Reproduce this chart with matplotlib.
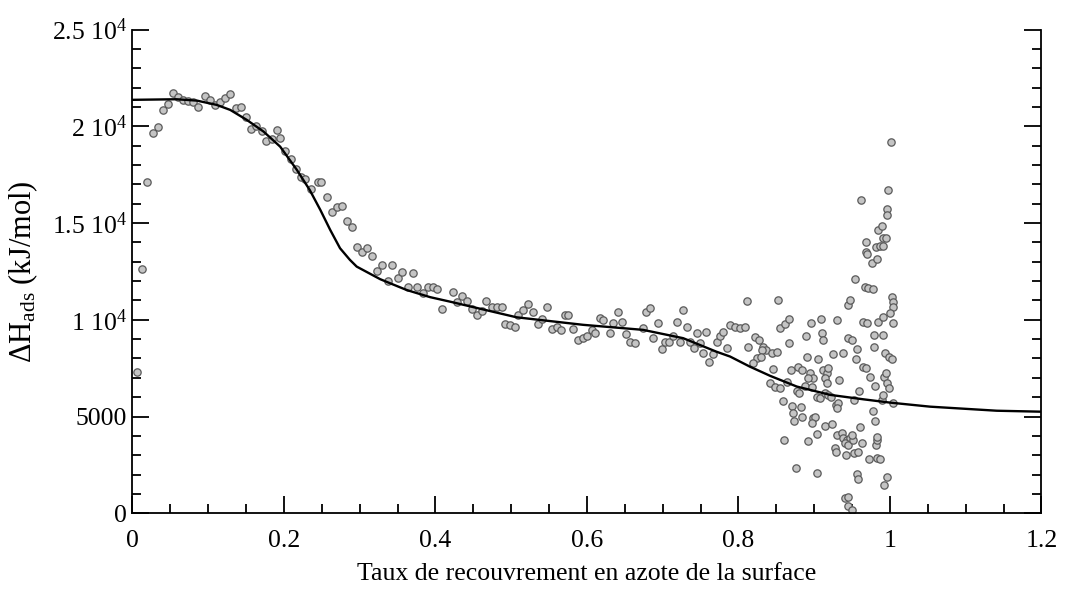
import matplotlib
matplotlib.use('Agg')
from matplotlib import pyplot as plt
from matplotlib.ticker import MultipleLocator

plt.rcParams['font.family'] = ['Liberation Serif', 'DejaVu Serif']
plt.rcParams['mathtext.fontset'] = 'custom'
plt.rcParams['mathtext.rm'] = 'Liberation Serif'
plt.rcParams['mathtext.it'] = 'Liberation Serif:italic'

# measured points, low coverage (theta < 0.4)
theta_low = [0.0055, 0.0121, 0.0195, 0.0267, 0.0341, 0.0399, 0.0473, 0.0531, 0.0605, 0.0671,
             0.0737, 0.0803, 0.0869, 0.0957, 0.1023, 0.1089, 0.1155, 0.1221, 0.1287, 0.1366,
             0.1432, 0.1494, 0.1560, 0.1630, 0.1706, 0.1762, 0.1838, 0.1904, 0.1947, 0.2013,
             0.2092, 0.2154, 0.2220, 0.2277, 0.2356, 0.2453, 0.2484, 0.2564, 0.2630, 0.2696,
             0.2762, 0.2836, 0.2894, 0.2960, 0.3026, 0.3092, 0.3166, 0.3224, 0.3298, 0.3369,
             0.3430, 0.3501, 0.3562, 0.3641, 0.3699, 0.3760, 0.3839, 0.3897, 0.3970]
dh_low = [7320, 12630, 17110, 19650, 19990, 20850, 21150, 21710, 21510, 21370,
          21330, 21280, 21020, 21590, 21370, 21110, 21280, 21460, 21660, 20970,
          21020, 20500, 19870, 20020, 19780, 19260, 19340, 19820, 19390, 18750,
          18300, 17780, 17400, 17270, 16770, 17140, 17140, 16370, 15590, 15850,
          15890, 15130, 14790, 13780, 13520, 13700, 13300, 12540, 12840, 12030,
          12850, 12150, 12480, 11720, 12440, 11720, 11370, 11720, 11720]

# measured points, middle coverage
theta_mid = [0.4024, 0.4082, 0.4227, 0.4280, 0.4354, 0.4412, 0.4478, 0.4544, 0.4610, 0.4667,
             0.4742, 0.4808, 0.4874, 0.4917, 0.4983, 0.5050, 0.5093, 0.5159, 0.5225, 0.5291,
             0.5357, 0.5402, 0.5468, 0.5534, 0.5600, 0.5653, 0.5710, 0.5753, 0.5819, 0.5885,
             0.5951, 0.6004, 0.6062, 0.6106, 0.6172, 0.6215, 0.6304, 0.6347, 0.6413, 0.6458,
             0.6515, 0.6568, 0.6634, 0.6735, 0.6779, 0.6832, 0.6875, 0.6941, 0.6986, 0.7030,
             0.7086, 0.7139, 0.7184, 0.7228, 0.7271, 0.7316, 0.7360, 0.7413, 0.7448, 0.7492,
             0.7527, 0.7571, 0.7615, 0.7659, 0.7712, 0.7756, 0.7799, 0.7844, 0.7888, 0.7954,
             0.8020, 0.8086, 0.8108, 0.8129]
dh_mid = [11580, 10560, 11460, 10940, 11250, 10990, 10560, 10250, 10460, 10990,
          10680, 10650, 10680, 9790, 9730, 9650, 10250, 10510, 10820, 10420,
          9770, 10030, 10680, 9510, 9620, 9480, 10250, 10250, 9510, 8960,
          9050, 9170, 9480, 9310, 10080, 9990, 9310, 9820, 10420, 9910,
          9270, 8870, 8820, 9560, 10420, 10600, 9050, 9850, 8480, 8870,
          8870, 9170, 9910, 8870, 10510, 9650, 8870, 8530, 9310, 8790,
          8270, 9390, 7840, 8240, 8870, 9170, 9390, 8530, 9740, 9650,
          9560, 9650, 10990, 8610]

# measured points, high coverage (scattered region)
theta_high = [0.8218, 0.8275, 0.8327, 0.8363, 0.8306, 0.8438, 0.8504, 0.8240, 0.8293, 0.8187,
              0.8459, 0.8416, 0.8482, 0.8548, 0.8525, 0.8548, 0.8614, 0.8671, 0.8671, 0.8689,
              0.8636, 0.8591, 0.8706, 0.8723, 0.8733, 0.8604, 0.8755, 0.8790, 0.8834, 0.8768,
              0.8799, 0.8821, 0.8834, 0.8887, 0.8953, 0.8908, 0.8944, 0.8988, 0.8921, 0.8878,
              0.8966, 0.8980, 0.9010, 0.8966, 0.9053, 0.9040, 0.9076, 0.8913, 0.9040, 0.9032,
              0.9093, 0.9106, 0.9120, 0.9120, 0.9164, 0.9185, 0.9142, 0.9172, 0.9142, 0.9185,
              0.9142, 0.9230, 0.9304, 0.9251, 0.9383, 0.9221, 0.9287, 0.9317, 0.9296, 0.9330,
              0.9296, 0.9362, 0.9274, 0.9287, 0.9383, 0.9428, 0.9472, 0.9406, 0.9450, 0.9516,
              0.9494, 0.9419, 0.9525, 0.9581, 0.9406, 0.9450, 0.9450, 0.9494, 0.9450, 0.9472,
              0.9538, 0.9450, 0.9494, 0.9560, 0.9551, 0.9525, 0.9595, 0.9604, 0.9626, 0.9568,
              0.9577, 0.9613, 0.9648, 0.9700, 0.9640, 0.9683, 0.9683, 0.9683, 0.9692, 0.9670,
              0.9714, 0.9736, 0.9727, 0.9758, 0.9824, 0.9780, 0.9789, 0.9789, 0.9802, 0.9772,
              0.9815, 0.9824, 0.9824, 0.9868, 0.9815, 0.9868, 0.9904, 0.9845, 0.9890, 0.9911,
              0.9947, 0.9845, 0.9911, 0.9911, 0.9934, 0.9991, 1.0022, 0.9921, 0.9947, 0.9964,
              0.9991, 0.9890, 0.9911, 0.9957, 0.9964, 1.0022, 1.0036, 1.0036, 1.0000, 1.0044,
              1.0036, 0.9802, 0.9824, 0.9957, 0.9925, 0.9977, 1.0009]
dh_high = [9130, 8960, 8610, 8440, 8440, 8270, 8350, 8010, 8070, 7760,
           7440, 6720, 6550, 6490, 11030, 9560, 9790, 10050, 8820, 7410,
           6800, 5810, 5550, 5170, 4790, 3790, 2330, 7550, 7410, 6340,
           6200, 5480, 4990, 9170, 9820, 8070, 7240, 6980, 6980, 6580,
           6550, 4910, 4990, 4650, 7960, 6000, 5950, 3740, 4080, 2070,
           10050, 9310, 8960, 7410, 7240, 7500, 6980, 6750, 6200, 6120,
           4510, 4620, 9990, 8220, 8270, 6030, 5600, 5720, 5430, 6890,
           4050, 4140, 3360, 3180, 3880, 3790, 3880, 3620, 3530, 3790,
           4050, 3010, 3100, 3180, 780, 860, 380, 170, 10770, 11030,
           12100, 9050, 8960, 8480, 7960, 5860, 6340, 4480, 3620, 2030,
           1760, 16200, 9910, 9820, 7580, 7500, 14040, 13520, 13410, 11720,
           11630, 7030, 2790, 12930, 13130, 11580, 9220, 8610, 6580, 5300,
           3530, 3790, 2840, 2790, 13780, 13820, 13820, 14650, 14850, 14220,
           14220, 9910, 10160, 9220, 8270, 8100, 7960, 7060, 7240, 6720,
           6460, 5860, 6120, 15720, 15420, 11200, 10940, 10680, 10340, 9850,
           5720, 4770, 3960, 1890, 1460, 16710, 19210]

# fitted curve
fit_theta = [0.0, 0.058, 0.085, 0.111, 0.129, 0.151, 0.173, 0.195, 0.217, 0.234,
             0.248, 0.261, 0.274, 0.287, 0.296, 0.327, 0.340, 0.362, 0.393, 0.419,
             0.507, 0.595, 0.674, 0.727, 0.771, 0.789, 0.815, 0.842, 0.877, 0.921,
             0.965, 1.0, 1.053, 1.141, 1.2]
fit_dh = [21370, 21400, 21330, 21110, 20850, 20330, 19730, 18950, 17750, 16710,
          15680, 14650, 13700, 13100, 12750, 12100, 11890, 11540, 11170, 10940,
          10130, 9740, 9480, 9050, 8350, 8100, 7580, 7100, 6550, 6120,
          5890, 5720, 5510, 5300, 5250]

ytick_vals = [0, 5000, 10000, 15000, 20000, 25000]
ytick_labels = ['0', '5000', r'1 10$^4$', r'1.5 10$^4$', r'2 10$^4$', r'2.5 10$^4$']
xtick_vals = [0, 0.2, 0.4, 0.6, 0.8, 1.0, 1.2]
xtick_labels = ['0', '0.2', '0.4', '0.6', '0.8', '1', '1.2']

fig = plt.figure(figsize=(10.77, 5.92), dpi=100)
ax = fig.add_axes([0.123, 0.133, 0.844, 0.817])

for tx, ty in [(theta_low, dh_low), (theta_mid, dh_mid), (theta_high, dh_high)]:
    ax.scatter(tx, ty, s=28, facecolor='#c4c4c4', edgecolor='#5a5a5a', linewidths=0.9, zorder=2)
ax.plot(fit_theta, fit_dh, color='black', lw=1.7, zorder=3)

ax.set_xlim(0, 1.2)
ax.set_ylim(0, 25000)
ax.set_xticks(xtick_vals)
ax.set_xticklabels(xtick_labels)
ax.set_yticks(ytick_vals)
ax.set_yticklabels(ytick_labels)
ax.xaxis.set_minor_locator(MultipleLocator(0.05))
ax.yaxis.set_minor_locator(MultipleLocator(1000))

ax.spines['top'].set_visible(False)
for s in ['left', 'right', 'bottom']:
    ax.spines[s].set_linewidth(1.3)
ax.tick_params(which='both', direction='in', top=False, right=True, width=1.3)
ax.tick_params(which='major', length=12, labelsize=18.5)
ax.tick_params(which='minor', length=6.5)
ax.tick_params(axis='x', pad=12)
ax.tick_params(axis='y', pad=4)

ax.set_xlabel('Taux de recouvrement en azote de la surface', fontsize=18.5, labelpad=8)
ax.set_ylabel(r'ΔH$_{\mathrm{ads}}$ (kJ/mol)', fontsize=22, labelpad=8)

plt.savefig('out.png', dpi=100)
